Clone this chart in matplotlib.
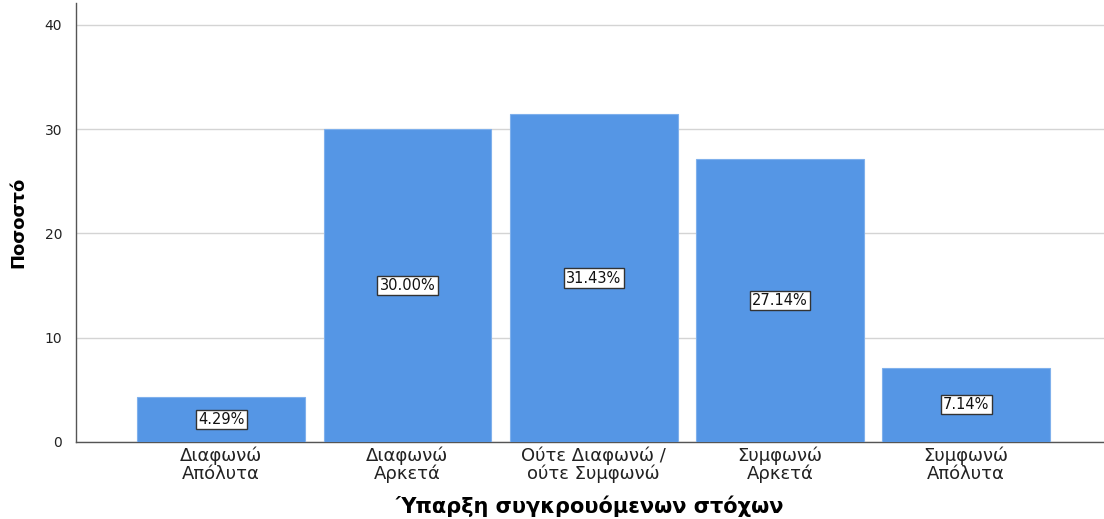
import matplotlib
matplotlib.use("Agg")
import matplotlib.pyplot as plt
import numpy as np

# response categories and their share of answers (%)
categories = [
    "Διαφωνώ\nΑπόλυτα",
    "Διαφωνώ\nΑρκετά",
    "Ούτε Διαφωνώ /\nούτε Συμφωνώ",
    "Συμφωνώ\nΑρκετά",
    "Συμφωνώ\nΑπόλυτα",
]
percentages = [4.29, 30.00, 31.43, 27.14, 7.14]
yticks = [0, 10, 20, 30, 40]

plt.rcParams["font.family"] = ["DejaVu Sans"]

fig = plt.figure(figsize=(11.04, 5.19), dpi=100, facecolor="white")
ax = fig.add_axes([0.0688, 0.1484, 0.9312, 0.8458])

x = np.arange(len(categories))
ax.bar(x, percentages, width=0.9, color="#5596E5", edgecolor="#7FB0EC",
       linewidth=0.8, zorder=3)

for xi, v in zip(x, percentages):
    ax.text(xi, v / 2, f"{v:.2f}%", ha="center", va="center", fontsize=10.5,
            color="#111111", zorder=4,
            bbox=dict(boxstyle="square,pad=0.15", facecolor="white",
                      edgecolor="#333333", linewidth=1.0))

ax.set_xlim(-0.78, 4.74)
ax.set_ylim(0, 42.1)
ax.set_yticks(yticks)
ax.set_xticks(x)
ax.set_xticklabels(categories, fontsize=13, color="#222222", linespacing=1.0)
ax.tick_params(axis="y", labelsize=10, colors="#222222", length=0, pad=10)
ax.tick_params(axis="x", length=0, pad=3)

ax.grid(axis="y", color="#d4d4d4", linewidth=1.0, zorder=0)
ax.set_axisbelow(True)

for side in ("top", "right"):
    ax.spines[side].set_visible(False)
for side in ("left", "bottom"):
    ax.spines[side].set_color("#555555")
    ax.spines[side].set_linewidth(1.0)

ax.set_ylabel("Ποσοστό", fontsize=13, fontweight="bold", labelpad=12)
ax.set_xlabel("Ύπαρξη συγκρουόμενων στόχων", fontsize=15, fontweight="bold",
              labelpad=9)

fig.savefig("out.png", dpi=100, facecolor="white")
